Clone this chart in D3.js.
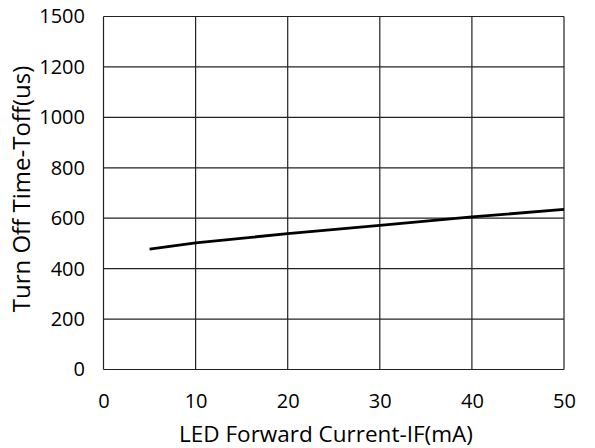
<!DOCTYPE html>
<html><head><meta charset="utf-8">
<script src="https://cdn.jsdelivr.net/npm/d3@7"></script>
<style>html,body{margin:0;padding:0;background:#fff;}</style>
</head><body>
<svg id="c" width="595" height="448"></svg>
<script>
// Data
const currentIF = [5, 10, 20, 30, 40, 50];
const toff = [477, 502, 539, 572, 605, 635];
const xTicks = [0, 10, 20, 30, 40, 50];
const yTickValues = [0, 200, 400, 600, 800, 1000, 1200, 1400];
const yTickLabels = ["0", "200", "400", "600", "800", "1000", "1200", "1500"];
const xTitle = "LED Forward Current-IF(mA)";
const yTitle = "Turn Off Time-Toff(us)";

const svg = d3.select("#c");
const m = {left: 103.5, right: 564, top: 16.5, bottom: 369.5};
const x = d3.scaleLinear().domain([0, 50]).range([m.left, m.right]);
const y = d3.scaleLinear().domain([0, 1400]).range([m.bottom, m.top]);
const font = "'Open Sans', 'Noto Sans', sans-serif";

// grid
svg.append("g").selectAll("line").data(xTicks).join("line")
  .attr("x1", d => x(d)).attr("x2", d => x(d))
  .attr("y1", m.top).attr("y2", m.bottom)
  .attr("stroke", "#222").attr("stroke-width", 1.2);
svg.append("g").selectAll("line").data(yTickValues).join("line")
  .attr("x1", m.left).attr("x2", m.right)
  .attr("y1", d => y(d)).attr("y2", d => y(d))
  .attr("stroke", "#222").attr("stroke-width", 1.2);

// axes labels
const xAxis = d3.axisBottom(x).tickValues(xTicks).tickSize(0).tickPadding(24);
const gx = svg.append("g").attr("transform", `translate(0,${m.bottom})`).call(xAxis);
gx.select(".domain").remove();
gx.selectAll("text").attr("font-family", font).attr("font-size", 20).attr("fill", "#000");

const yAxis = d3.axisLeft(y).tickValues(yTickValues).tickSize(0).tickPadding(18.5)
  .tickFormat((d, i) => yTickLabels[i]);
const gy = svg.append("g").attr("transform", `translate(${m.left},0)`).call(yAxis);
gy.select(".domain").remove();
gy.selectAll("text").attr("font-family", font).attr("font-size", 20).attr("fill", "#000");

// line
const line = d3.line().x((d, i) => x(currentIF[i])).y(d => y(d));
svg.append("path").datum(toff).attr("d", line)
  .attr("fill", "none").attr("stroke", "#000").attr("stroke-width", 2.8);

// titles (sized to the reference text widths)
function fit(sel, target) {
  sel.attr("font-size", 20);
  const w = sel.node().getComputedTextLength();
  sel.attr("font-size", Math.min(24, 20 * target / w));
}
const xt = svg.append("text").attr("x", 326).attr("y", 441.5)
  .attr("text-anchor", "middle").attr("font-family", font)
  .text(xTitle);
fit(xt, 294);
const yt = svg.append("text").attr("transform", `translate(30,189) rotate(-90)`)
  .attr("text-anchor", "middle").attr("font-family", font)
  .text(yTitle);
fit(yt, 256);
</script>
</body></html>
